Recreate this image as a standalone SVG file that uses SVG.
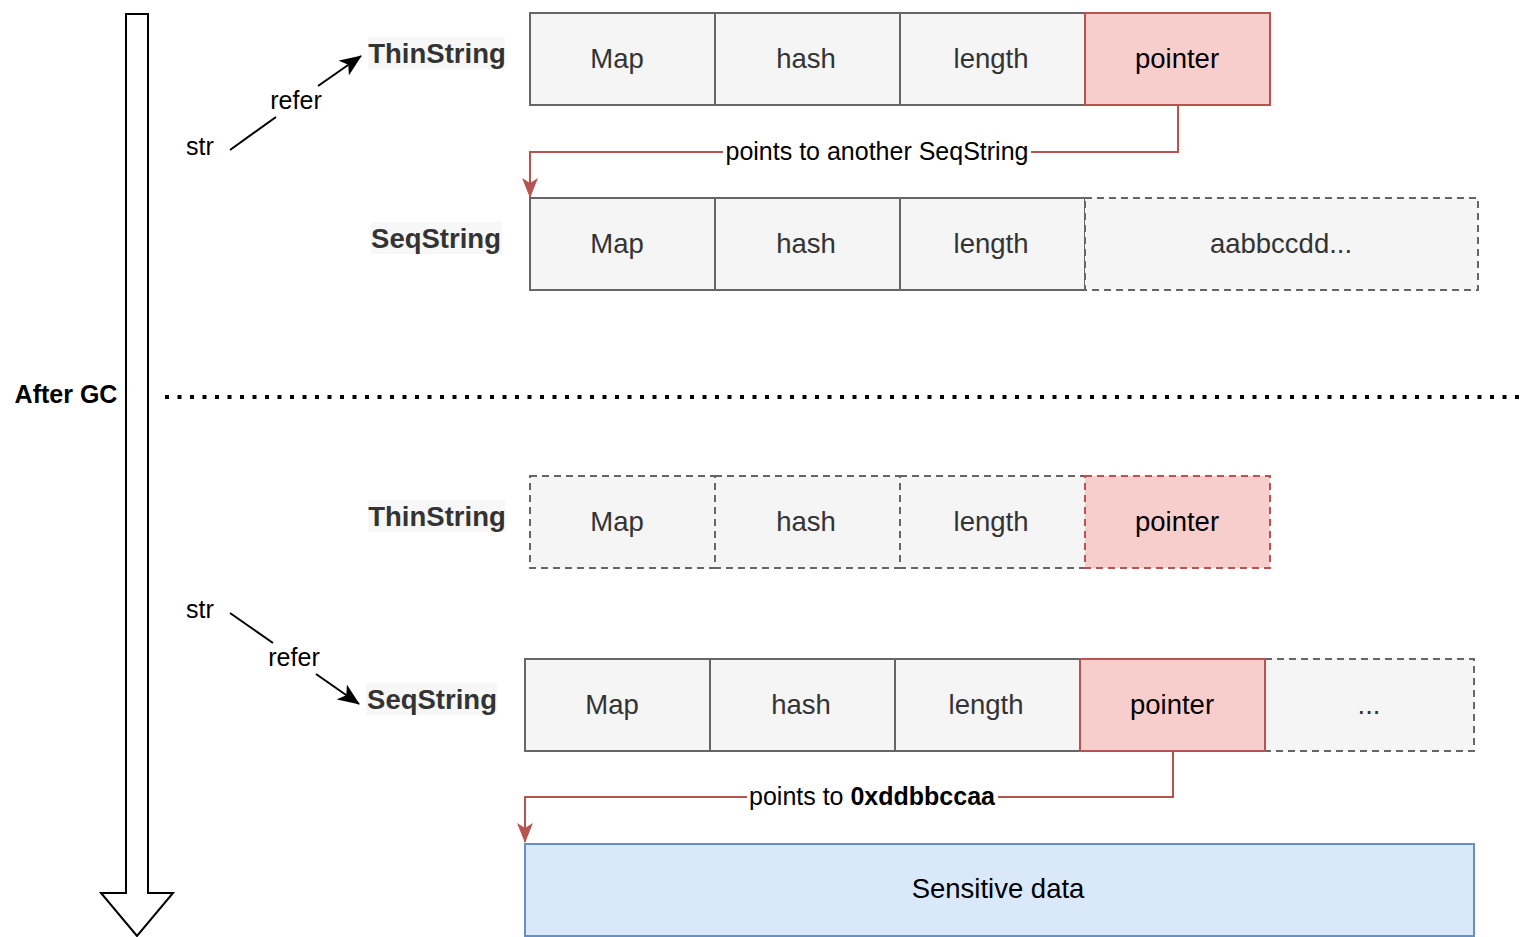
<svg xmlns="http://www.w3.org/2000/svg" width="1521" height="937" viewBox="0 0 1521 937">
  <style>
    .cell { fill: #f5f5f5; stroke: #666666; stroke-width: 2; }
    .cell.dash { stroke-dasharray: 7 5; }
    .ptr { fill: #f8cecc; stroke: #b85450; stroke-width: 2; }
    .ptr.dash { stroke-dasharray: 7 5; }
    .data { fill: #dae8fc; stroke: #6c8ebf; stroke-width: 2; }
    .ct { font-family: "Liberation Sans", Arial, sans-serif; font-size: 27.5px; fill: #333333; text-anchor: middle; dominant-baseline: central; }
    .ct.dark { fill: #000000; }
    .lbl { font-family: "Liberation Sans", Arial, sans-serif; font-size: 25px; fill: #000000; text-anchor: middle; dominant-baseline: central; }
    .title { font-family: "Liberation Sans", Arial, sans-serif; font-size: 27.5px; font-weight: bold; fill: #333333; text-anchor: middle; dominant-baseline: central; }
    .ref { fill: none; stroke: #000000; stroke-width: 2; }
    .redline { fill: none; stroke: #b85450; stroke-width: 2; }
  </style>
  <defs>
    <marker id="arrowBlack" viewBox="0 0 22 18" refX="21" refY="9" markerWidth="22" markerHeight="18" markerUnits="userSpaceOnUse" orient="auto">
      <path d="M0,0 L22,9 L0,18 L5.5,9 Z" fill="#000000"/>
    </marker>
    <marker id="arrowRed" viewBox="0 0 20 16" refX="19" refY="8" markerWidth="20" markerHeight="16" markerUnits="userSpaceOnUse" orient="auto">
      <path d="M0,0 L20,8 L0,16 L5,8 Z" fill="#b85450"/>
    </marker>
  </defs>

  <rect width="1521" height="937" fill="#ffffff"/>

  <!-- time axis -->
  <g id="time-arrow">
    <path d="M126,14 H148 V893 H173 L137,936 L101,893 H126 Z" fill="#ffffff" stroke="#000000" stroke-width="2"/>
  </g>

  <g id="after-gc">
    <text x="66" y="394" class="title" style="fill:#000000;font-size:25px">After GC</text>
    <line x1="165" y1="397" x2="1521" y2="397" stroke="#000000" stroke-width="4" stroke-dasharray="4 8.5"/>
  </g>

  <!-- before GC: ThinString -->
  <g id="thin-before">
    <rect x="368" y="37" width="137" height="32" fill="#f7f7f7"/>
    <text x="437" y="53" class="title">ThinString</text>
    <rect x="530" y="13" width="185" height="92" class="cell"/>
    <text x="617" y="58" class="ct">Map</text>
    <rect x="715" y="13" width="185" height="92" class="cell"/>
    <text x="806" y="58" class="ct">hash</text>
    <rect x="900" y="13" width="185" height="92" class="cell"/>
    <text x="991" y="58" class="ct">length</text>
    <rect x="1085" y="13" width="185" height="92" class="ptr"/>
    <text x="1177" y="58" class="ct dark">pointer</text>
  </g>

  <!-- before GC: SeqString -->
  <g id="seq-before">
    <rect x="371" y="222" width="131" height="32" fill="#f7f7f7"/>
    <text x="436" y="238" class="title">SeqString</text>
    <rect x="530" y="198" width="185" height="92" class="cell"/>
    <text x="617" y="243" class="ct">Map</text>
    <rect x="715" y="198" width="185" height="92" class="cell"/>
    <text x="806" y="243" class="ct">hash</text>
    <rect x="900" y="198" width="185" height="92" class="cell"/>
    <text x="991" y="243" class="ct">length</text>
    <rect x="1085" y="198" width="393" height="92" class="cell dash"/>
    <text x="1281" y="243" class="ct">aabbccdd...</text>
  </g>

  <g id="str-before">
    <text x="200" y="146" class="lbl">str</text>
  </g>

  <!-- after GC: ThinString -->
  <g id="thin-after">
    <rect x="368" y="500" width="137" height="32" fill="#f7f7f7"/>
    <text x="437" y="516" class="title">ThinString</text>
    <rect x="530" y="476" width="185" height="92" class="cell dash"/>
    <text x="617" y="521" class="ct">Map</text>
    <rect x="715" y="476" width="185" height="92" class="cell dash"/>
    <text x="806" y="521" class="ct">hash</text>
    <rect x="900" y="476" width="185" height="92" class="cell dash"/>
    <text x="991" y="521" class="ct">length</text>
    <rect x="1085" y="476" width="185" height="92" class="ptr dash"/>
    <text x="1177" y="521" class="ct dark">pointer</text>
  </g>

  <g id="str-after">
    <text x="200" y="609" class="lbl">str</text>
  </g>

  <!-- after GC: SeqString -->
  <g id="seq-after">
    <rect x="366" y="683" width="131" height="32" fill="#f7f7f7"/>
    <text x="432" y="699" class="title">SeqString</text>
    <rect x="525" y="659" width="185" height="92" class="cell"/>
    <text x="612" y="704" class="ct">Map</text>
    <rect x="710" y="659" width="185" height="92" class="cell"/>
    <text x="801" y="704" class="ct">hash</text>
    <rect x="895" y="659" width="185" height="92" class="cell"/>
    <text x="986" y="704" class="ct">length</text>
    <rect x="1265" y="659" width="209" height="92" class="cell dash"/>
    <text x="1369" y="704" class="ct">...</text>
    <rect x="1080" y="659" width="185" height="92" class="ptr"/>
    <text x="1172" y="704" class="ct dark">pointer</text>
  </g>

  <g id="sensitive-data">
    <rect x="525" y="844" width="949" height="92" class="data"/>
    <text x="998" y="888" class="ct dark">Sensitive data</text>
  </g>

  <!-- connectors -->
  <g id="connectors">
    <line x1="230" y1="150" x2="276" y2="117" class="ref"/>
    <line x1="318" y1="86" x2="361" y2="56" class="ref" marker-end="url(#arrowBlack)"/>
    <text x="296" y="100" class="lbl">refer</text>

    <line x1="230" y1="613" x2="273" y2="643" class="ref"/>
    <line x1="316" y1="674" x2="359" y2="704" class="ref" marker-end="url(#arrowBlack)"/>
    <text x="294" y="657" class="lbl">refer</text>

    <path d="M1178,105 V152 H530 V197" class="redline" marker-end="url(#arrowRed)"/>
    <rect x="723" y="138" width="308" height="28" fill="#ffffff"/>
    <text x="877" y="151" class="lbl">points to another SeqString</text>

    <path d="M1173,751 V797 H525 V842" class="redline" marker-end="url(#arrowRed)"/>
    <rect x="747" y="783" width="251" height="28" fill="#ffffff"/>
    <text x="872" y="796" class="lbl">points to <tspan font-weight="bold">0xddbbccaa</tspan></text>
  </g>
</svg>
